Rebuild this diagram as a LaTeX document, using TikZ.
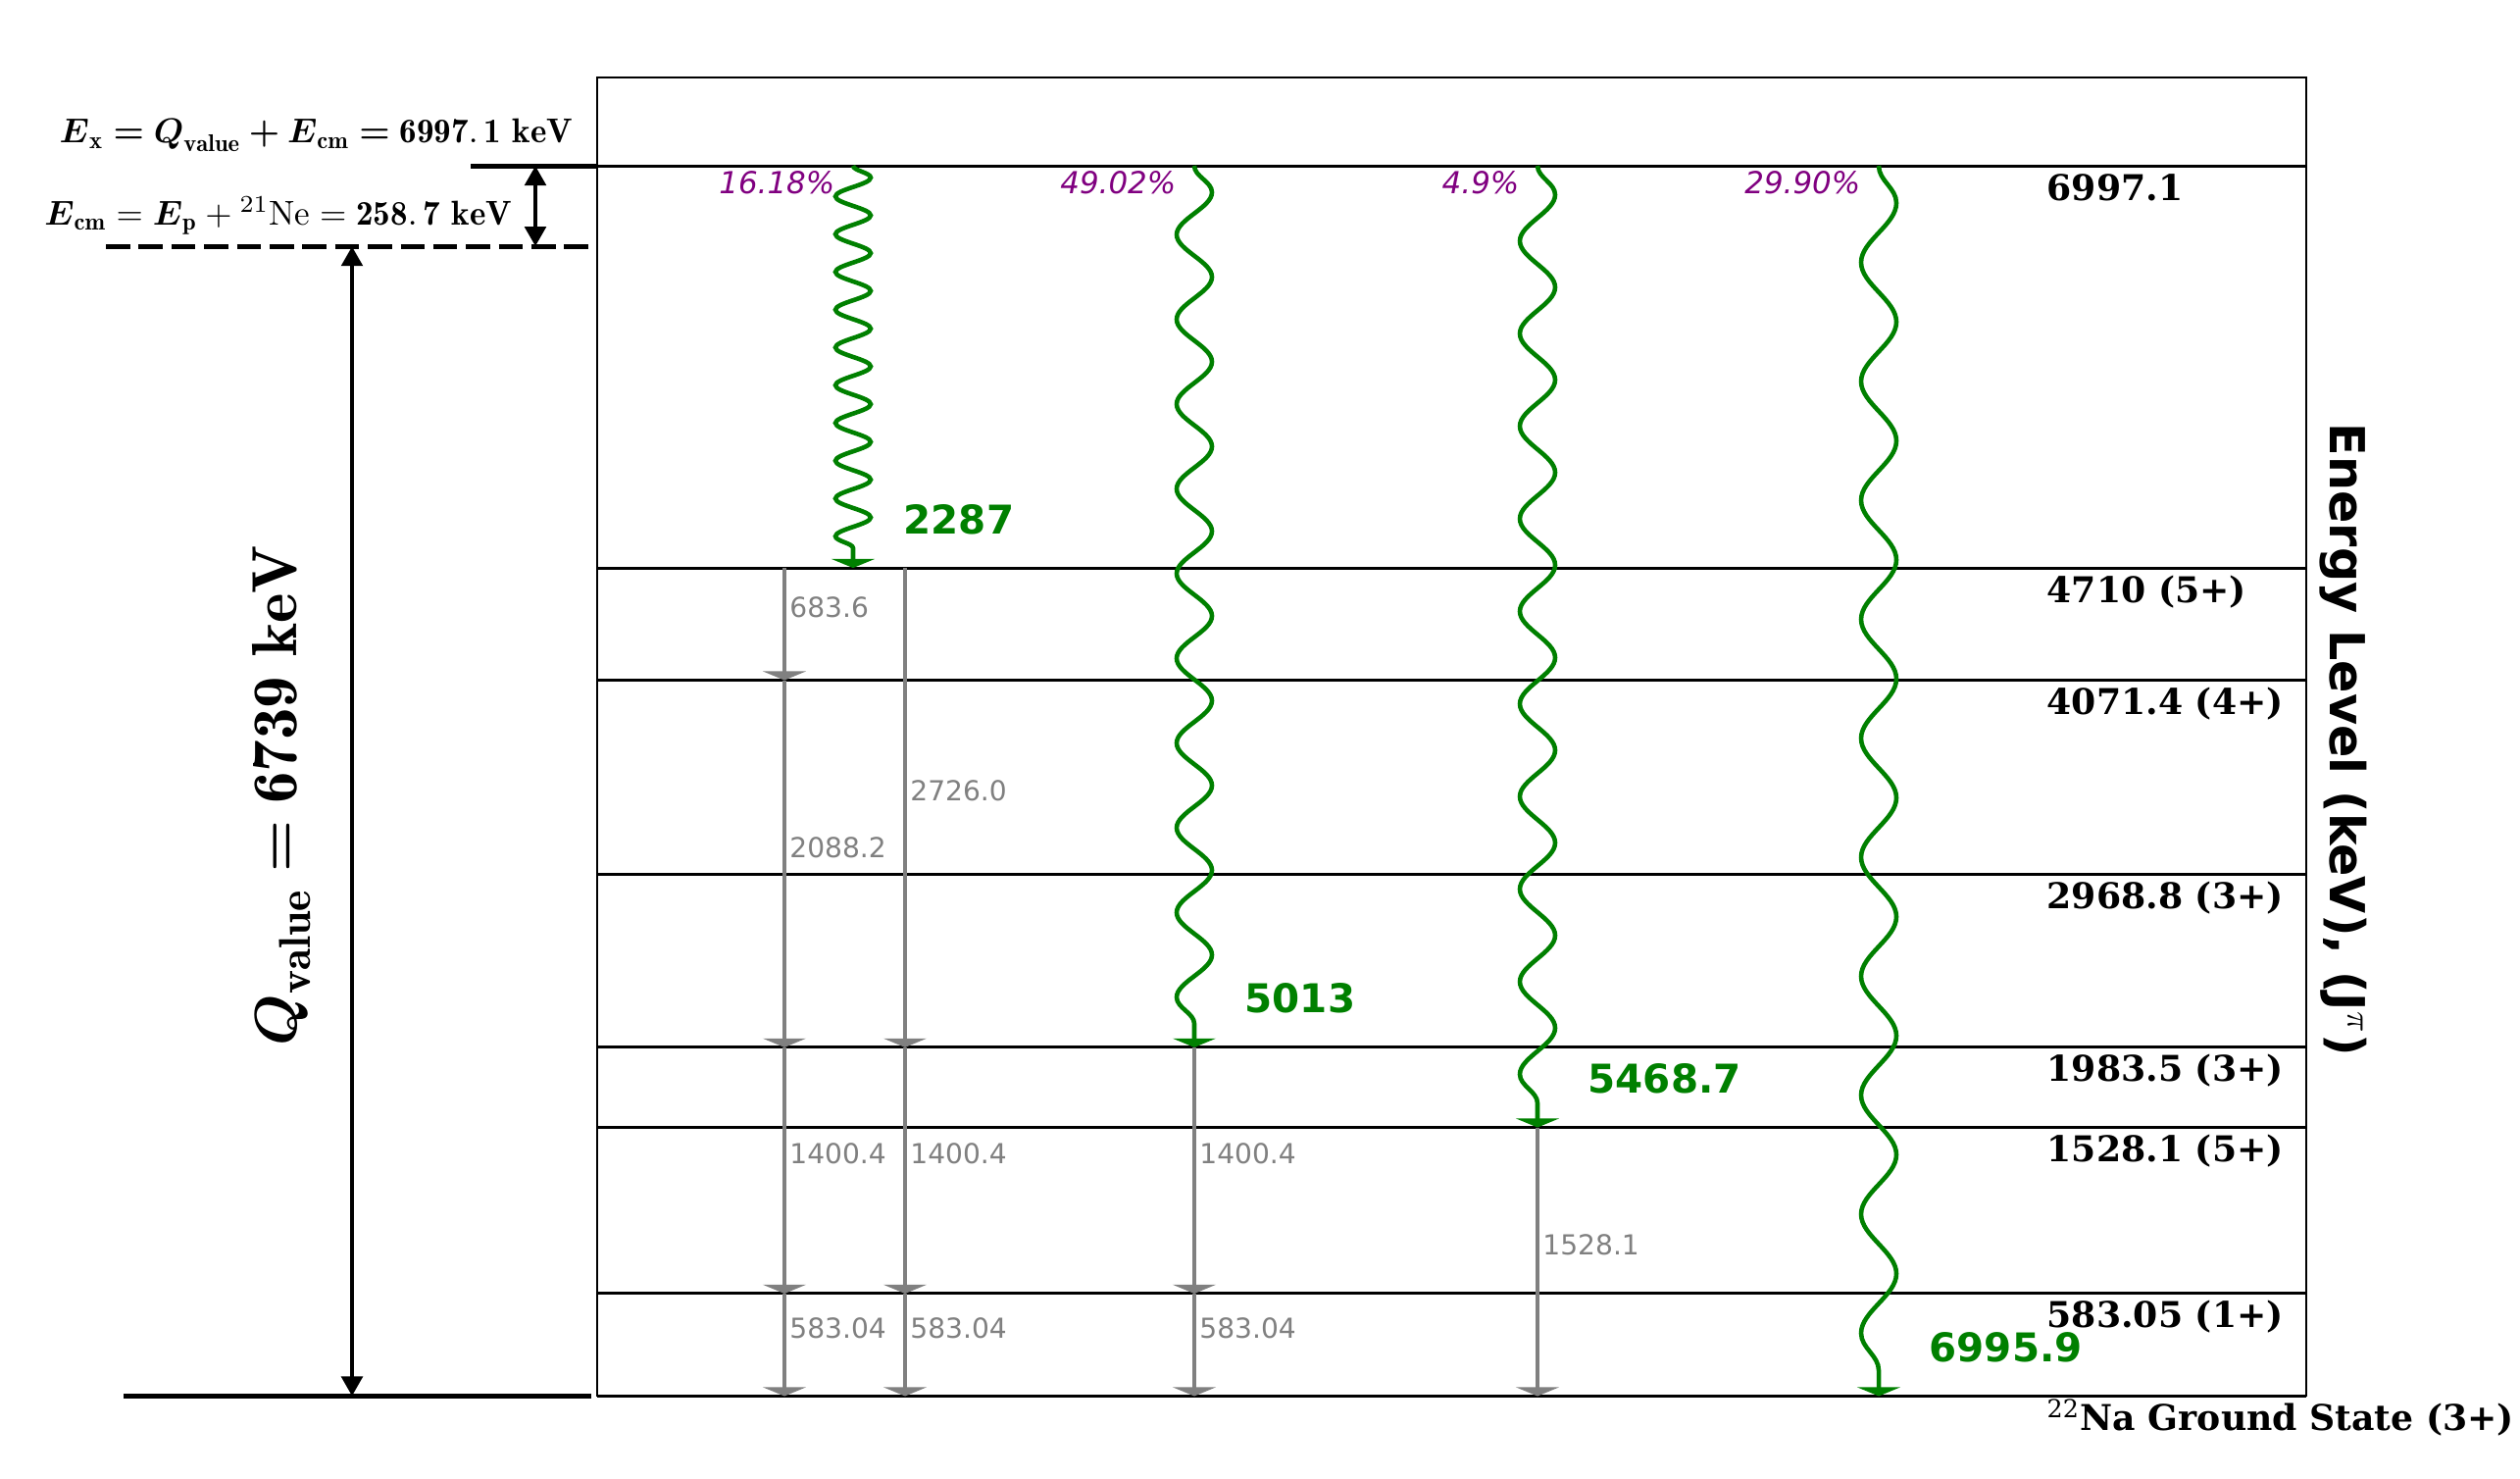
\documentclass[tikz,border=0pt]{standalone}
\usepackage{amsmath, amssymb}
\usepackage{fontspec}
\setsansfont{DejaVu Sans}
\newfontfamily\levelfont{DejaVu Serif}
\usepackage{tikz}
\usetikzlibrary{calc, arrows.meta, decorations.pathmorphing}
\definecolor{gammagreen}{RGB}{0, 128, 0}
\definecolor{branchpurple}{RGB}{128, 0, 128}
\definecolor{cascadegray}{RGB}{128, 128, 128}

\begin{document}
\begin{tikzpicture}[
    x=1cm, y=0.017922mm,
    level/.style={line width=0.85pt},
    frame/.style={line width=0.55pt},
    refline/.style={line width=1.4pt},
    spanarrow/.style={line width=1.4pt, {Triangle[width=6pt,length=5.7pt]}-{Triangle[width=6pt,length=5.7pt]}},
    cascade/.style={draw=cascadegray, line width=1.1pt, -{Triangle[width=12.5pt,length=2.6pt]}},
    primary/.style={draw=gammagreen, line width=1.3pt, -{Triangle[width=12.5pt,length=2.6pt]},
        decorate, decoration={snake, amplitude=0.18cm, segment length=#1, post length=0.17cm}},
    levellabel/.style={anchor=base west, inner sep=0pt, yshift=-0.35cm, font=\levelfont\bfseries\fontsize{10.3}{12}\selectfont},
    cascadelabel/.style={midway, anchor=base west, inner sep=0pt, xshift=1pt, yshift=1.9pt, text=cascadegray, font=\sffamily\fontsize{8}{9}\selectfont},
    branchlabel/.style={anchor=base east, inner sep=0pt, xshift=-0.18cm, yshift=-0.28cm, text=branchpurple, font=\sffamily\itshape\fontsize{8.8}{10}\selectfont},
    energylabel/.style={anchor=base west, inner sep=0pt, xshift=0.51cm, yshift=0.35cm, text=gammagreen, font=\sffamily\bfseries\fontsize{11.5}{13}\selectfont},
    formula/.style={anchor=east, inner sep=0pt, font=\fontsize{10}{12}\selectfont}
]
    \useasboundingbox (0,-468.7) rectangle (25.70,7940);

    \draw[frame] (6.09,0) rectangle (23.52,7499);
    \foreach \E/\n/\lab in {583.05/583/583.05 (1+), 1528.1/1528/1528.1 (5+), 1983.5/1983/1983.5 (3+),
        2968.8/2968/2968.8 (3+), 4071.4/4071/4071.4 (4+), 4710/4710/4710 (5+), 6997.1/6997/6997.1} {
        \coordinate (lv\n) at (6.09,\E);
        \draw[level] (lv\n) -- (23.52,\E);
        \node[levellabel] (lab\n) at (20.87,\E) {\lab};
    }
    \coordinate (lv0) at (6.09,0);
    \draw[level] (lv0) -- (23.52,0);
    \node[levellabel] (lab0) at (20.87,0) {{\mdseries\textsuperscript{22}}Na Ground State (3+)};

    \node[rotate=-90, anchor=base, font=\sffamily\bfseries\fontsize{14}{16}\selectfont] (axis-text) at (23.76,3733) {Energy Level (keV), (J$^{\pi}$)};

    \coordinate (ex-l) at (4.80,6997.1);
    \coordinate (cm-l) at (1.08,6539);
    \coordinate (cm-r) at (6.09,6539);
    \coordinate (q-l) at (1.26,0);
    \coordinate (q-r) at (6.03,0);
    \coordinate (q-axis) at (3.59,0);
    \coordinate (cm-axis) at (5.46,0);
    \draw[refline] (ex-l) -- (lv6997);
    \draw[refline, dash pattern=on 7pt off 2.5pt] (cm-l) -- (cm-r);
    \draw[refline] (q-l) -- (q-r);
    \draw[spanarrow] (q-axis |- cm-l) -- (q-axis);
    \draw[spanarrow] (cm-axis |- lv6997) -- (cm-axis |- cm-l);

    \node[formula] (ex-text) at (5.85,7170) {$\boldsymbol{E}_{\mathbf{x}} \boldsymbol{=} \boldsymbol{Q}_{\mathbf{value}}\boldsymbol{+}\boldsymbol{E}_{\mathbf{cm}} \boldsymbol{=} \mathbf{6997.\,1\ keV}$};
    \node[formula] (cm-text) at (5.23,6712) {$\boldsymbol{E}_{\mathbf{cm}} = \boldsymbol{E}_{\mathbf{p}} + {}^{21}\mathrm{Ne} = \mathbf{258.\,7\ keV}$};
    \node[rotate=90, inner sep=0pt, font=\fontsize{18.5}{22}\selectfont] (q-text) at (2.87,3415) {$\boldsymbol{Q}_{\mathbf{value}} \boldsymbol{=} \mathbf{6739\ keV}$};

    \coordinate (cA) at (8.00,0);
    \coordinate (cB) at (9.23,0);
    \coordinate (cW) at (8.70,0);
    \coordinate (cC) at (12.18,0);
    \coordinate (cD) at (15.68,0);
    \coordinate (cE) at (19.16,0);

    \foreach \c/\a/\b/\lab in {cA/4710/4071/683.6, cA/4071/1983/2088.2, cA/1983/583/1400.4, cA/583/0/583.04,
        cB/4710/1983/2726.0, cB/1983/583/1400.4, cB/583/0/583.04,
        cC/1983/583/1400.4, cC/583/0/583.04, cD/1528/0/1528.1}
        \draw[cascade] (\c |- lv\a) -- (\c |- lv\b) node[cascadelabel] {\lab};

    \foreach \c/\b/\seg/\lab/\pct in {cW/4710/0.385/2287/16.18\%, cC/1983/0.864/5013/49.02\%,
        cD/1528/0.944/5468.7/4.9\%, cE/0/1.213/6995.9/29.90\%} {
        \draw[primary=\seg cm] (\c |- lv6997) -- (\c |- lv\b);
        \node[branchlabel] (pct-\c) at (\c |- lv6997) {\pct};
        \node[energylabel] (eg-\c) at (\c |- lv\b) {\lab};
    }
\end{tikzpicture}
\end{document}
